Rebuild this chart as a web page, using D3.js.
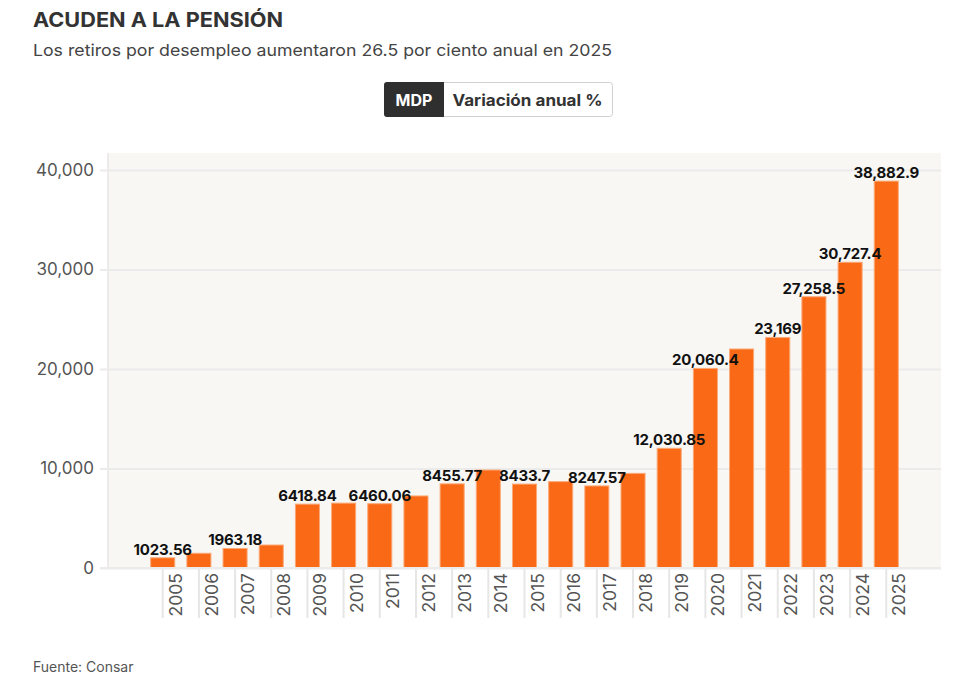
<!DOCTYPE html>
<html>
<head>
<meta charset="utf-8">
<script src="https://cdn.jsdelivr.net/npm/d3@7"></script>
<style>
  html, body { margin: 0; padding: 0; background: #fff; }
  svg { display: block; font-family: Inter, "Noto Sans", sans-serif; }
</style>
</head>
<body>
<svg id="chart" width="972" height="681"></svg>
<script>
const years = ["2005","2006","2007","2008","2009","2010","2011","2012","2013","2014","2015","2016","2017","2018","2019","2020","2021","2022","2023","2024","2025"];
const values = [1023.56, 1480, 1963.18, 2310, 6418.84, 6520, 6460.06, 7240, 8455.77, 9850, 8433.7, 8680, 8247.57, 9510, 12030.85, 20060.4, 22010, 23169, 27258.5, 30727.4, 38882.9];
const labeledYears = ["2005","2007","2009","2011","2013","2015","2017","2019","2020","2022","2023","2024","2025"];
const yTicks = [0, 10000, 20000, 30000, 40000];
const title = "ACUDEN A LA PENSIÓN";
const subtitle = "Los retiros por desempleo aumentaron 26.5 por ciento anual en 2025";
const buttons = ["MDP", "Variación anual %"];
const source = "Fuente: Consar";

const data = years.map((y, i) => ({ year: y, value: values[i] }));
const svg = d3.select("#chart");

// Header
svg.append("text").attr("x", 33).attr("y", 27)
  .attr("font-size", 20).attr("font-weight", 700).attr("fill", "#333")
  .attr("textLength", 250).attr("lengthAdjust", "spacingAndGlyphs")
  .text(title);
svg.append("text").attr("x", 33).attr("y", 55.5)
  .attr("font-size", 16.5).attr("fill", "#444")
  .attr("textLength", 579).attr("lengthAdjust", "spacingAndGlyphs")
  .text(subtitle);

// Toggle buttons
const bx = 384, by = 82, bh = 35, w1 = 60, w2 = 169;
svg.append("rect").attr("x", bx + 0.5).attr("y", by + 0.5).attr("width", w1 + w2 - 1).attr("height", bh - 1)
  .attr("rx", 3).attr("fill", "#fff").attr("stroke", "#d0d0d0");
svg.append("path")
  .attr("d", `M${bx + 3},${by} H${bx + w1} V${by + bh} H${bx + 3} Q${bx},${by + bh} ${bx},${by + bh - 3} V${by + 3} Q${bx},${by} ${bx + 3},${by} Z`)
  .attr("fill", "#2f2f2f");
svg.append("text").attr("x", bx + w1 / 2).attr("y", 106).attr("text-anchor", "middle")
  .attr("font-size", 16).attr("font-weight", 700).attr("fill", "#fff").text(buttons[0]);
svg.append("text").attr("x", bx + w1 + w2 / 2 - 1).attr("y", 106).attr("text-anchor", "middle")
  .attr("font-size", 16).attr("font-weight", 700).attr("fill", "#333")
  .attr("textLength", 150).attr("lengthAdjust", "spacingAndGlyphs").text(buttons[1]);

// Scales
const plotLeft = 108, plotRight = 941, plotTop = 153;
const x = d3.scaleBand().domain(years).range([plotLeft, plotRight]).paddingInner(0.335).paddingOuter(1.18);
const y = d3.scaleLinear().domain([0, 40000]).range([568, 170]);

// Plot background
svg.append("rect").attr("x", plotLeft).attr("y", plotTop)
  .attr("width", plotRight - plotLeft).attr("height", y(0) - plotTop).attr("fill", "#f8f7f4");

// Y axis with gridlines
const yAxis = d3.axisLeft(y).tickValues(yTicks).tickFormat(d3.format(","))
  .tickSize(-(plotRight - 100)).tickPadding(6);
const yg = svg.append("g").attr("transform", `translate(100,0)`).call(yAxis);
yg.select(".domain").remove();
yg.selectAll(".tick line").attr("stroke", "#ebebeb").attr("stroke-width", 2).attr("x2", plotRight - 100).attr("x1", 0);
yg.selectAll(".tick text").attr("x", -6).attr("font-family", "Inter, sans-serif").attr("font-size", 17).attr("fill", "#555");

// left axis line
svg.append("line").attr("x1", plotLeft).attr("x2", plotLeft).attr("y1", plotTop).attr("y2", y(0))
  .attr("stroke", "#ebebeb").attr("stroke-width", 2);

// X axis ticks
const xAxis = d3.axisBottom(x).tickSize(50).tickSizeOuter(0).tickPadding(0);
const xg = svg.append("g").attr("transform", `translate(0,${y(0)})`).call(xAxis);
xg.select(".domain").remove();
xg.selectAll(".tick line").attr("stroke", "#e6e6e6").attr("stroke-width", 2);
xg.selectAll(".tick text")
  .attr("font-family", "Inter, sans-serif").attr("font-size", 17.5).attr("fill", "#555")
  .attr("text-anchor", "end").attr("dy", null)
  .attr("transform", "translate(19,5) rotate(-90)").attr("x", 0).attr("y", 0);

// Bars
svg.append("g").selectAll("rect").data(data).join("rect")
  .attr("x", d => x(d.year)).attr("width", x.bandwidth())
  .attr("y", d => y(d.value)).attr("height", d => y(0) - y(d.value))
  .attr("fill", "#f96916").attr("stroke", "#fca977").attr("stroke-width", 1);

// baseline
svg.append("line").attr("x1", 100).attr("x2", plotRight).attr("y1", y(0)).attr("y2", y(0))
  .attr("stroke", "#ebebeb").attr("stroke-width", 2);

// Value labels
const fmt = v => v >= 10000 ? d3.format(",")(v) : String(v);
svg.append("g").selectAll("text").data(data.filter(d => labeledYears.includes(d.year))).join("text")
  .attr("x", d => x(d.year) + x.bandwidth() / 2).attr("y", d => y(d.value) - 3)
  .attr("text-anchor", "middle").attr("font-size", 15).attr("font-weight", 700).attr("fill", "#111")
  .attr("letter-spacing", -0.2)
  .text(d => fmt(d.value));

// Source
svg.append("text").attr("x", 33).attr("y", 672).attr("font-size", 14).attr("fill", "#555").text(source);
</script>
</body>
</html>
